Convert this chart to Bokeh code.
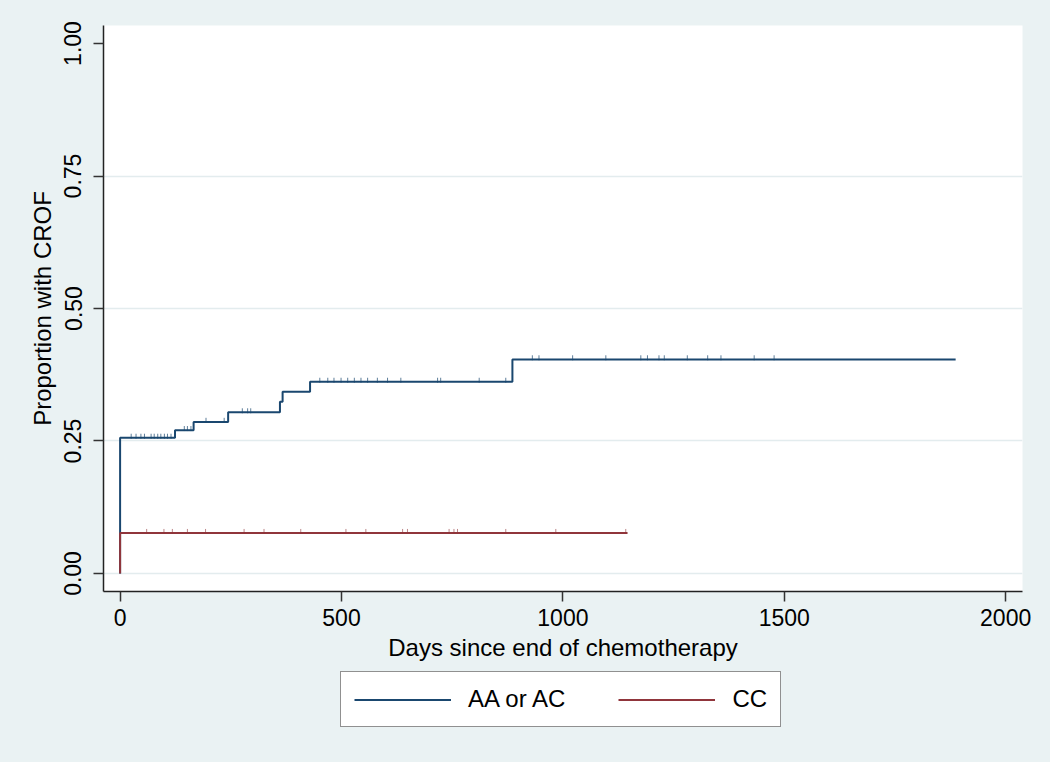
import math
from bokeh.plotting import figure
from bokeh.layouts import column
from bokeh.models import Legend, LegendItem, FixedTicker, NumeralTickFormatter, Range1d
from bokeh.embed import file_html
from bokeh.resources import INLINE

# ---- data ----
aa_times = [0, 0, 124, 166, 244, 361, 367, 429, 886, 1887]
aa_prop = [0.0, 0.256, 0.2705, 0.286, 0.304, 0.324, 0.343, 0.3616, 0.404, 0.404]

cc_times = [0, 0, 1146]
cc_prop = [0.0, 0.0763, 0.0763]

aa_censor_t = [25, 36, 47, 55, 70, 77, 85, 92, 100, 107, 115,
               145, 152, 160, 194, 235, 276, 288, 295,
               451, 469, 483, 499, 514, 529, 544, 559, 581, 604, 634, 717, 724, 811, 871,
               931, 946, 1022, 1097, 1176, 1191, 1217, 1229, 1281, 1327, 1357, 1432, 1477]
aa_censor_p = [0.256] * 11 + [0.2705] * 3 + [0.286] * 2 + [0.304] * 3 + [0.3616] * 15 + [0.404] * 13

cc_censor_t = [60, 99, 118, 152, 193, 280, 325, 408, 510, 555,
               638, 649, 743, 754, 762, 871, 984, 1142]
cc_censor_p = [0.0763] * len(cc_censor_t)

series_labels = ["AA or AC", "CC"]
x_ticks = [0, 500, 1000, 1500, 2000]
y_ticks = [0.0, 0.25, 0.5, 0.75, 1.0]
grid_ticks = [0.0, 0.25, 0.5, 0.75]

BG = "#eaf2f3"
BLUE = "#1a476f"
RED = "#90353b"
FONT = "Liberation Sans"

p = figure(width=1050, height=671, output_backend="svg", toolbar_location=None,
           x_range=Range1d(-37.5, 2038), y_range=Range1d(-0.034, 1.034),
           min_border_left=103, min_border_right=28, min_border_top=25, min_border_bottom=80)
p.background_fill_color = "white"
p.border_fill_color = BG
p.outline_line_color = None

r_aa = p.step(aa_times, aa_prop, mode="after", line_color=BLUE, line_width=2)
p.scatter(aa_censor_t, [v + 0.003 for v in aa_censor_p], marker="dash", angle=math.pi / 2,
          size=5, line_color=BLUE, line_width=1, line_alpha=0.7)
r_cc = p.step(cc_times, cc_prop, mode="after", line_color=RED, line_width=2)
p.scatter(cc_censor_t, [v + 0.003 for v in cc_censor_p], marker="dash", angle=math.pi / 2,
          size=5, line_color=RED, line_width=1, line_alpha=0.6)

# grids
p.xgrid.visible = False
p.ygrid.ticker = FixedTicker(ticks=grid_ticks)
p.ygrid.grid_line_color = "#e3ecee"
p.ygrid.grid_line_width = 1.5

# axes
p.xaxis.ticker = FixedTicker(ticks=x_ticks)
p.yaxis.ticker = FixedTicker(ticks=y_ticks)
p.yaxis.formatter = NumeralTickFormatter(format="0.00")
p.yaxis.major_label_orientation = "vertical"
p.xaxis.axis_label = "Days since end of chemotherapy"
p.yaxis.axis_label = "Proportion with CROF"
for ax in (p.xaxis, p.yaxis):
    ax.minor_tick_line_color = None
    ax.major_tick_out = 10
    ax.major_tick_in = 0
    ax.major_tick_line_color = "#333333"
    ax.major_tick_line_width = 1.5
    ax.axis_line_color = "#222222"
    ax.axis_line_width = 1.5
    ax.major_label_text_font = FONT
    ax.major_label_text_font_size = "23px"
    ax.major_label_text_color = "black"
    ax.axis_label_text_font = FONT
    ax.axis_label_text_font_size = "24px"
    ax.axis_label_text_font_style = "normal"
    ax.axis_label_text_color = "black"
p.xaxis.major_label_standoff = 7
p.xaxis.axis_label_standoff = 5
p.yaxis.major_label_standoff = 12
p.yaxis.axis_label_standoff = 6

# ---- legend strip below the chart ----
lg = figure(width=1050, height=91, output_backend="svg", toolbar_location=None,
            x_range=Range1d(0, 1), y_range=Range1d(0, 1),
            x_axis_type=None, y_axis_type=None, min_border=0)
lg.background_fill_alpha = 0
lg.border_fill_color = BG
lg.outline_line_color = None
lg.xgrid.visible = False
lg.ygrid.visible = False
# sample lines for the legend keys (kept outside the visible range)
l_aa = lg.line(x=[5, 6], y=[5, 6], line_color=BLUE, line_width=2)
l_cc = lg.line(x=[5, 6], y=[5, 6], line_color=RED, line_width=2)

legend = Legend(items=[LegendItem(label=series_labels[0], renderers=[l_aa]),
                       LegendItem(label=series_labels[1], renderers=[l_cc])],
                orientation="horizontal", location=(237, 35))
legend.glyph_width = 97
legend.glyph_height = 21
legend.label_height = 21
legend.label_standoff = 17
legend.spacing = 53
legend.padding = 13
legend.margin = 0
legend.label_text_font = FONT
legend.label_text_font_size = "24px"
legend.label_text_color = "black"
legend.border_line_color = "#222222"
legend.border_line_width = 1.5
legend.background_fill_color = "white"
legend.background_fill_alpha = 1.0
lg.add_layout(legend, "center")

page = column(p, lg, spacing=0, styles={"background-color": BG})
open("out.html", "w").write(file_html(page, INLINE))
